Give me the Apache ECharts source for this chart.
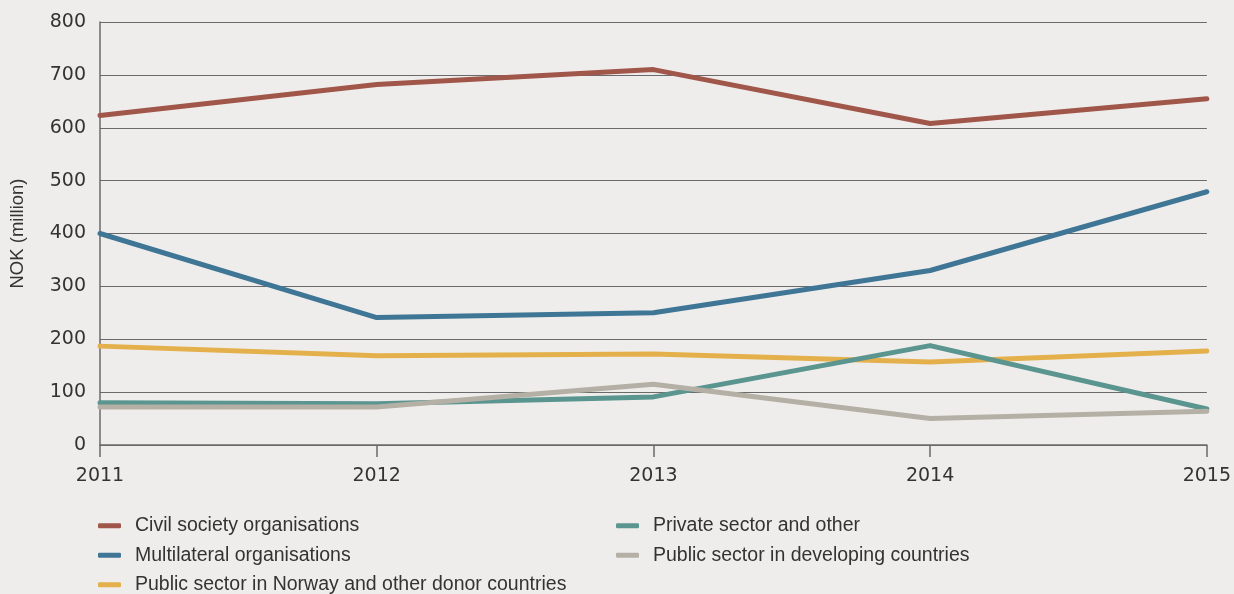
<!DOCTYPE html>
<html>
<head>
<meta charset="utf-8">
<script src="https://cdn.jsdelivr.net/npm/echarts@6/dist/echarts.min.js"></script>
<style>
  html, body { margin: 0; padding: 0; background: #efedeb; }
  #chart { width: 1234px; height: 594px; }
</style>
</head>
<body>
<div id="chart"></div>
<script>
// Years on the x axis
const years = ['2011', '2012', '2013', '2014', '2015'];

// NOK (million) per channel
const civilSociety = [623, 682, 710, 608, 655];
const multilateral = [400, 241, 250, 330, 479];
const publicNorway = [187, 169, 172, 157, 178];
const privateSector = [80, 78, 91, 188, 68];
const publicDeveloping = [72, 72, 115, 50, 64];

const seriesNames = [
  'Civil society organisations',
  'Multilateral organisations',
  'Public sector in Norway and other donor countries',
  'Private sector and other',
  'Public sector in developing countries'
];
const seriesValues = [civilSociety, multilateral, publicNorway, privateSector, publicDeveloping];
const colors = ['#a0574a', '#3f7696', '#e4b04c', '#5a9590', '#b5b0a6'];
// drawing order: grey and teal under the others
const drawOrder = [4, 3, 2, 1, 0];

const textFont = '"Liberation Sans", Arial, sans-serif';
const numberFont = '"DejaVu Sans", sans-serif';
const chart = echarts.init(document.getElementById('chart'), null, { renderer: 'canvas' });

const legendCommon = {
  orient: 'vertical',
  top: 515.5,
  height: 90,
  padding: 0,
  itemWidth: 23,
  itemHeight: 5,
  itemGap: 9,
  icon: 'roundRect',
  textStyle: { fontFamily: textFont, fontSize: 19.5, color: '#333', lineHeight: 20.5, padding: [0, 0, 0, 9] },
  selectedMode: false
};

chart.setOption({
  backgroundColor: '#efedeb',
  animation: false,
  color: colors,
  textStyle: { fontFamily: textFont },
  grid: { left: 98, right: 27, top: 22, bottom: 149, containLabel: false },
  legend: [
    Object.assign({ left: 98, data: seriesNames.slice(0, 3) }, legendCommon),
    Object.assign({ left: 616, data: seriesNames.slice(3) }, legendCommon)
  ],
  xAxis: {
    type: 'category',
    data: years,
    boundaryGap: false,
    axisLine: { lineStyle: { color: '#6a6a6a', width: 1.5 } },
    axisTick: { show: true, length: 12, lineStyle: { color: '#6a6a6a', width: 1.5 } },
    axisLabel: { fontSize: 19, color: '#333', margin: 22, fontFamily: numberFont }
  },
  yAxis: {
    type: 'value',
    min: 0,
    max: 800,
    interval: 100,
    name: 'NOK (million)',
    nameLocation: 'middle',
    nameRotate: 90,
    nameGap: 73,
    nameTextStyle: { fontSize: 18.5, color: '#333', fontFamily: textFont },
    axisLine: { show: true, lineStyle: { color: '#6a6a6a', width: 1.5 } },
    axisTick: { show: false },
    axisLabel: { fontSize: 19, color: '#333', margin: 14, fontFamily: numberFont },
    splitLine: { show: true, lineStyle: { color: '#6a6a6a', width: 1.2 } }
  },
  series: drawOrder.map(i => ({
    name: seriesNames[i],
    type: 'line',
    data: seriesValues[i],
    symbol: 'none',
    z: 3 + (4 - drawOrder.indexOf(i)),
    lineStyle: { width: 5, color: colors[i], cap: 'round', join: 'round' },
    itemStyle: { color: colors[i] }
  }))
});
</script>
</body>
</html>
